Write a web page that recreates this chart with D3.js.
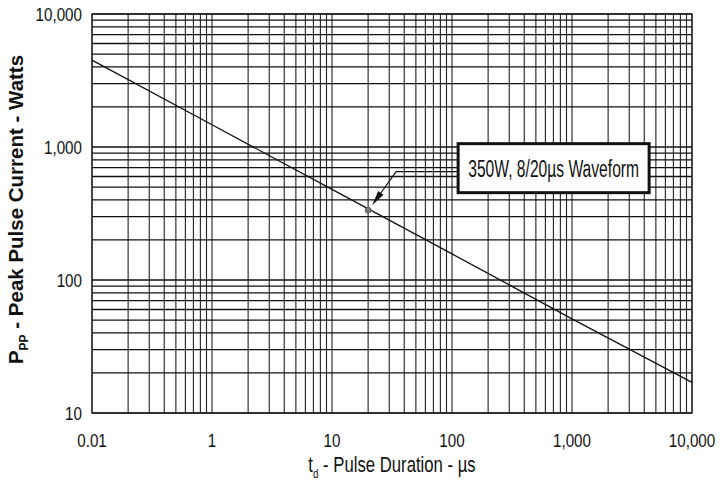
<!DOCTYPE html>
<html>
<head>
<meta charset="utf-8">
<script src="https://cdn.jsdelivr.net/npm/d3@7"></script>
<style>
  html, body { margin: 0; padding: 0; background: #fff; }
  svg { display: block; }
  text { font-family: "Liberation Sans", Arial, sans-serif; fill: #111; }
</style>
</head>
<body>
<svg id="chart" width="721" height="481"></svg>
<script>
// ---- data ----
const pulseDuration = [0.1, 1, 10, 100, 1000, 10000];       // µs (plot position)
const peakPower     = [4500, 1470, 480, 157, 51, 17];       // W
const xTickValues   = [0.1, 1, 10, 100, 1000, 10000];
const xTickLabels   = ["0.01", "1", "10", "100", "1,000", "10,000"];
const yTickValues   = [10, 100, 1000, 10000];
const yTickLabels   = ["10", "100", "1,000", "10,000"];
const markerPoint   = [20, 335];
const annotationText = "350W, 8/20µs Waveform";

const svg = d3.select("#chart");
const margin = { left: 92, right: 29, top: 14, bottom: 68 };
const W = 721, H = 481;

const x = d3.scaleLog().domain([0.1, 10000]).range([margin.left, W - margin.right]);
const y = d3.scaleLog().domain([10, 10000]).range([H - margin.bottom, margin.top]);

// minor + major grid values
const xGrid = [];
for (let e = -1; e < 4; e++) for (let m = 1; m < 10; m++) xGrid.push(m * Math.pow(10, e));
xGrid.push(10000);
const yGrid = [];
for (let e = 1; e < 4; e++) for (let m = 1; m < 10; m++) yGrid.push(m * Math.pow(10, e));
yGrid.push(10000);

const g = svg.append("g");

g.selectAll("line.vg").data(xGrid).enter().append("line")
  .attr("x1", d => x(d)).attr("x2", d => x(d))
  .attr("y1", y(10)).attr("y2", y(10000))
  .attr("stroke", "#222").attr("stroke-width", 1.1);

g.selectAll("line.hg").data(yGrid).enter().append("line")
  .attr("y1", d => y(d)).attr("y2", d => y(d))
  .attr("x1", x(0.1)).attr("x2", x(10000))
  .attr("stroke", "#111").attr("stroke-width", 1.3);

// frame
g.append("rect")
  .attr("x", x(0.1)).attr("y", y(10000))
  .attr("width", x(10000) - x(0.1)).attr("height", y(10) - y(10000))
  .attr("fill", "none").attr("stroke", "#222").attr("stroke-width", 1.3);

// tick labels (condensed sans)
const xl = svg.append("g");
xTickValues.forEach((v, i) => {
  xl.append("text")
    .attr("transform", `translate(${x(v)},447) scale(0.8,1)`)
    .attr("text-anchor", "middle")
    .attr("font-size", 19)
    .text(xTickLabels[i]);
});
const yl = svg.append("g");
yTickValues.forEach((v, i) => {
  yl.append("text")
    .attr("transform", `translate(82,${y(v) + 7}) scale(0.8,1)`)
    .attr("text-anchor", "end")
    .attr("font-size", 19)
    .text(yTickLabels[i]);
});

// axis titles
const xt = svg.append("text")
  .attr("transform", `translate(${(x(0.1) + x(10000)) / 2},472) scale(0.76,1)`)
  .attr("text-anchor", "middle")
  .attr("font-size", 22);
xt.append("tspan").text("t");
xt.append("tspan").attr("font-size", 13).attr("dy", 6).text("d");
xt.append("tspan").attr("dy", -6).text(" - Pulse Duration - µs");

const yt = svg.append("text")
  .attr("transform", `translate(23,${(y(10) + y(10000)) / 2 - 4}) rotate(-90)`)
  .attr("text-anchor", "middle")
  .attr("font-size", 20.5)
  .attr("font-weight", "bold");
yt.append("tspan").text("P");
yt.append("tspan").attr("font-size", 12).attr("dy", 5).text("PP");
yt.append("tspan").attr("dy", -5).text(" - Peak Pulse Current - Watts");

// data line
const line = d3.line().x(d => x(d[0])).y(d => y(d[1]));
svg.append("path")
  .datum(d3.zip(pulseDuration, peakPower))
  .attr("d", line)
  .attr("fill", "none")
  .attr("stroke", "#111")
  .attr("stroke-width", 1.3);

// marker
const mx = x(markerPoint[0]), my = y(markerPoint[1]);
svg.append("circle")
  .attr("cx", mx).attr("cy", my).attr("r", 3)
  .attr("fill", "#777").attr("stroke", "#555").attr("stroke-width", 0.8);

// annotation leader + arrow
const tip = [mx + 4, my - 5];
const elbow = [tip[0] + 24, tip[1] - 33.5];
const boxX = elbow[0] + 62, boxY = elbow[1] - 28;
const boxW = 191, boxH = 49;

const ang = Math.atan2(tip[1] - elbow[1], tip[0] - elbow[0]);
const aLen = 15, aW = 3.2;
const base = [tip[0] - aLen * Math.cos(ang), tip[1] - aLen * Math.sin(ang)];
const px = -Math.sin(ang), py = Math.cos(ang);

svg.append("polyline")
  .attr("points", [[boxX, elbow[1]], elbow, base].map(p => p.join(",")).join(" "))
  .attr("fill", "none").attr("stroke", "#111").attr("stroke-width", 1.2);
svg.append("polygon")
  .attr("points", [tip, [base[0] + px * aW, base[1] + py * aW], [base[0] - px * aW, base[1] - py * aW]]
    .map(p => p.join(",")).join(" "))
  .attr("fill", "#111");

svg.append("rect")
  .attr("x", boxX).attr("y", boxY).attr("width", boxW).attr("height", boxH)
  .attr("fill", "#fff").attr("stroke", "#111").attr("stroke-width", 3);
svg.append("text")
  .attr("transform", `translate(${boxX + boxW / 2},${boxY + 33}) scale(0.68,1)`)
  .attr("text-anchor", "middle")
  .attr("font-size", 23)
  .text(annotationText);
</script>
</body>
</html>
